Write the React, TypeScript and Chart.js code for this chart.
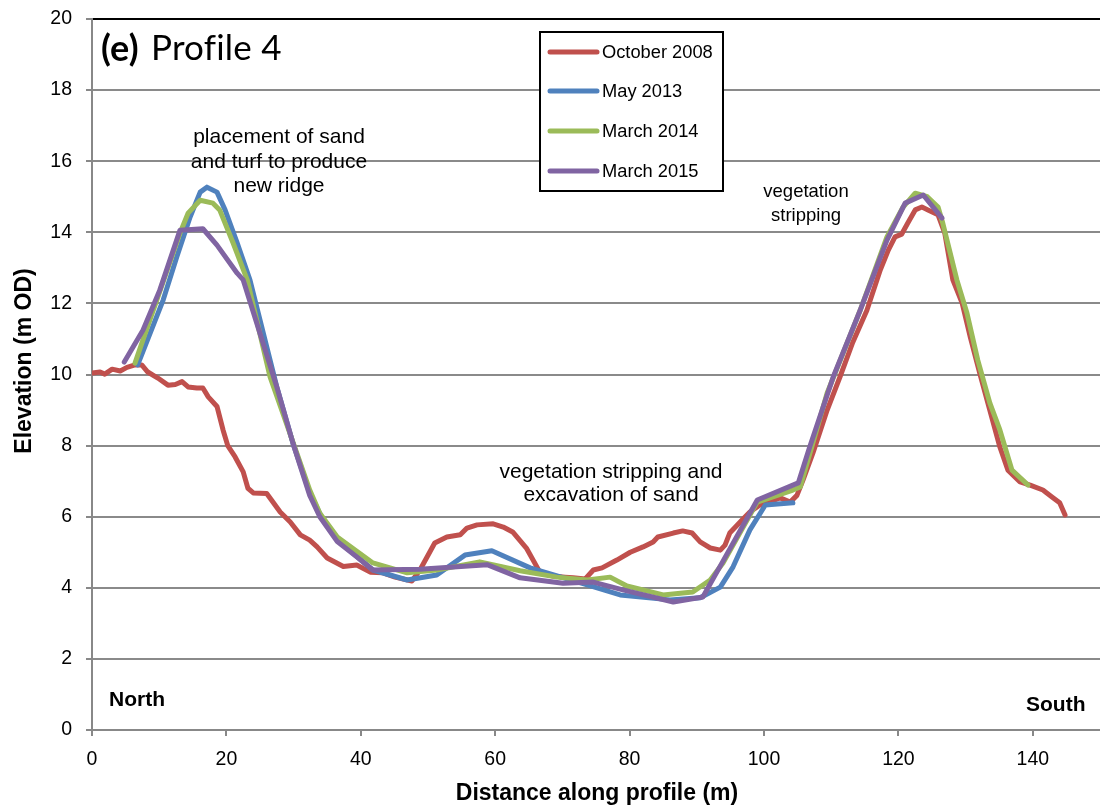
import React, { useEffect, useRef } from "react";
import { Chart, registerables } from "chart.js";

Chart.register(...registerables);

// ---- Data (distance along profile in m, elevation in m OD) ----
const oct2008Dist = [0,1.2,1.9,3.0,4.2,5.2,6.4,7.4,8.3,9.8,11.3,12.4,13.4,14.3,15.6,16.5,17.3,18.6,19.5,20.2,21.3,22.5,23.2,24.0,26.0,28.0,29.5,31.0,32.4,33.5,35.0,37.4,39.4,41.4,43.3,45.1,47.6,48.8,51.0,52.8,54.8,55.8,57.3,59.7,61.2,62.6,64.7,66.7,68.6,70.4,71.6,73.4,74.6,75.9,78.1,80.1,82.0,83.5,84.2,86.5,87.9,89.3,90.5,92.0,93.5,94.2,94.9,96.7,97.9,99.4,100.4,102.4,103.9,104.9,105.8,107.3,109.4,111.3,113.2,115.3,117.3,118.5,119.5,120.5,121.4,122.5,123.5,124.4,125.9,126.9,128.1,129.5,130.7,132.1,133.6,135.1,136.3,138.1,139.6,141.5,142.9,144.0,144.8];
const oct2008Elev = [10.04,10.07,10.01,10.15,10.1,10.2,10.27,10.27,10.07,9.9,9.7,9.72,9.8,9.65,9.62,9.62,9.37,9.1,8.44,8.0,7.68,7.26,6.8,6.67,6.65,6.13,5.85,5.49,5.34,5.15,4.84,4.6,4.64,4.44,4.42,4.3,4.19,4.5,5.26,5.43,5.49,5.68,5.77,5.8,5.71,5.57,5.1,4.42,4.33,4.3,4.28,4.25,4.5,4.56,4.78,5.0,5.15,5.29,5.43,5.54,5.6,5.54,5.29,5.12,5.06,5.2,5.54,5.9,6.13,6.33,6.39,6.53,6.41,6.6,7.03,7.8,9.0,9.93,10.9,11.8,12.94,13.5,13.87,13.95,14.26,14.63,14.71,14.63,14.49,13.98,12.66,12.0,11.05,10.04,9.0,7.96,7.31,6.98,6.89,6.75,6.55,6.39,6.05];

const may2013Dist = [6.8,10.6,12.6,14.6,16.1,17.1,18.6,19.8,21.6,23.5,27.5,29.9,32.4,34.4,36.5,41.8,46.9,51.3,55.5,59.5,65.2,73.7,78.6,86.0,90.5,93.5,95.4,97.9,100.2,104.3];
const may2013Elev = [10.27,12.1,13.3,14.43,15.13,15.27,15.13,14.63,13.7,12.66,9.65,8.07,6.67,5.9,5.34,4.5,4.22,4.36,4.92,5.04,4.56,4.08,3.8,3.66,3.72,4.02,4.59,5.63,6.33,6.39];

const mar2014Dist = [6.4,8.6,11.2,13.1,14.3,16.1,18.0,19.0,21.0,23.1,26.5,29.9,32.4,33.9,36.5,41.8,46.9,51.3,57.7,63.7,69.2,73.7,77.1,79.6,85.0,89.4,92.0,93.9,96.4,99.0,104.3,105.4,109.4,114.3,118.3,120.7,122.5,124.3,125.9,126.6,128.7,130.2,131.8,133.6,135.1,136.9,139.3];
const mar2014Elev = [10.32,11.53,12.94,13.98,14.54,14.9,14.82,14.63,13.7,12.66,9.93,8.1,6.75,6.1,5.43,4.7,4.42,4.5,4.73,4.48,4.3,4.22,4.3,4.05,3.8,3.88,4.22,4.7,5.54,6.41,6.75,6.84,9.48,11.8,13.87,14.71,15.1,15.0,14.71,14.26,12.66,11.73,10.41,9.2,8.44,7.31,6.89];

const mar2015Dist = [4.8,7.6,10.1,13.1,16.5,18.6,21.6,22.5,27.5,29.9,32.4,33.9,36.5,39.4,41.8,48.8,58.8,63.7,70.1,74.6,79.0,86.5,90.9,93.9,99.0,105.1,106.8,110.3,114.3,118.3,121.0,123.7,126.5];
const mar2015Elev = [10.35,11.25,12.38,14.06,14.1,13.64,12.85,12.66,9.65,8.07,6.6,6.0,5.3,4.87,4.5,4.52,4.65,4.28,4.13,4.16,3.94,3.6,3.74,4.75,6.47,6.95,7.96,9.93,11.8,13.78,14.82,15.05,14.4];

const seriesLabels = ["October 2008", "May 2013", "March 2014", "March 2015"];
const xTickValues = [0, 20, 40, 60, 80, 100, 120, 140];

const COLORS = ["#C0504D", "#4F81BD", "#9BBB59", "#8064A2"];
const SANS = '"Liberation Sans", Arial, sans-serif';

const toPoints = (xs: number[], ys: number[]) => xs.map((x, i) => ({ x, y: ys[i] }));

// short tick marks on the y axis (drawn from the library's own scale)
const yTickMarks = {
  id: "yTickMarks",
  afterDraw(chart: any) {
    const ctx = chart.ctx as CanvasRenderingContext2D;
    const ys = chart.scales.y;
    ctx.save();
    ctx.strokeStyle = "#888";
    ctx.lineWidth = 2;
    ys.ticks.forEach((t: any) => {
      const py = Math.round(ys.getPixelForValue(t.value));
      ctx.beginPath();
      ctx.moveTo(ys.right - 6, py);
      ctx.lineTo(ys.right, py);
      ctx.stroke();
    });
    ctx.restore();
  },
};

const overlayPlugin = {
  id: "overlay",
  afterDatasetsDraw(chart: any) {
    const ctx = chart.ctx as CanvasRenderingContext2D;
    ctx.save();
    ctx.fillStyle = "#000";

    // Panel title
    ctx.textBaseline = "middle";
    ctx.textAlign = "left";
    try { (ctx as any).letterSpacing = "0.2px"; } catch (e) {}
    ctx.font = `bold 36px Lato, "Open Sans", sans-serif`;
    ctx.fillText("(e)", 101, 49);
    ctx.font = `35px Lato, "Open Sans", sans-serif`;
    ctx.fillText("Profile 4", 151, 49);
    try { (ctx as any).letterSpacing = "0px"; } catch (e) {}

    // Annotations
    ctx.textAlign = "center";
    ctx.font = `21px ${SANS}`;
    ctx.fillText("placement of sand", 279, 137);
    ctx.fillText("and turf to produce", 279, 162);
    ctx.fillText("new ridge", 279, 186);
    ctx.fillText("vegetation stripping and", 611, 472);
    ctx.fillText("excavation of sand", 611, 495);
    ctx.font = `18.5px ${SANS}`;
    ctx.fillText("vegetation", 806, 192);
    ctx.fillText("stripping", 806, 216);

    // North / South
    ctx.textAlign = "left";
    ctx.font = `bold 21px ${SANS}`;
    ctx.fillText("North", 109, 700);
    ctx.fillText("South", 1026, 705);

    // Axis titles
    ctx.textAlign = "center";
    ctx.font = `bold 23px ${SANS}`;
    ctx.fillText("Distance along profile (m)", 597, 794);
    ctx.save();
    ctx.translate(25, 361);
    ctx.rotate(-Math.PI / 2);
    ctx.fillText("Elevation (m OD)", 0, 0);
    ctx.restore();

    // Legend
    ctx.fillStyle = "#fff";
    ctx.fillRect(540, 32, 183, 159);
    ctx.strokeStyle = "#000";
    ctx.lineWidth = 2;
    ctx.strokeRect(540, 32, 183, 159);
    const ys = [52, 91, 131, 171];
    ctx.font = `18.3px ${SANS}`;
    ctx.textAlign = "left";
    seriesLabels.forEach((lab, i) => {
      ctx.strokeStyle = COLORS[i];
      ctx.lineWidth = 5;
      ctx.lineCap = "round";
      ctx.beginPath();
      ctx.moveTo(550, ys[i]);
      ctx.lineTo(597, ys[i]);
      ctx.stroke();
      ctx.fillStyle = "#000";
      ctx.fillText(lab, 602, ys[i] + 1);
    });
    ctx.restore();
  },
};

export default function App() {
  const ref = useRef<HTMLCanvasElement | null>(null);

  useEffect(() => {
    if (!ref.current) return;
    const mk = (i: number, xs: number[], ys: number[], order: number) => ({
      label: seriesLabels[i],
      data: toPoints(xs, ys),
      borderColor: COLORS[i],
      backgroundColor: COLORS[i],
      borderWidth: 5,
      pointRadius: 0,
      tension: 0,
      fill: false,
      borderJoinStyle: "round" as const,
      borderCapStyle: "round" as const,
      order,
    });
    const chart = new Chart(ref.current, {
      type: "line",
      data: {
        datasets: [
          mk(0, oct2008Dist, oct2008Elev, 4),
          mk(1, may2013Dist, may2013Elev, 3),
          mk(2, mar2014Dist, mar2014Elev, 2),
          mk(3, mar2015Dist, mar2015Elev, 1),
        ],
      },
      options: {
        responsive: false,
        maintainAspectRatio: false,
        devicePixelRatio: 1,
        animation: false,
        layout: { padding: { top: 19, right: 0, left: 0, bottom: 0 } },
        plugins: { legend: { display: false }, tooltip: { enabled: false } },
        scales: {
          x: {
            type: "linear",
            min: 0,
            max: 150,
            afterBuildTicks: (s: any) => {
              s.ticks = xTickValues.map((v) => ({ value: v }));
            },
            afterFit: (s: any) => {
              s.height = 77;
            },
            ticks: { color: "#000", font: { family: SANS, size: 19.5 }, padding: 12, maxRotation: 0 },
            grid: { drawOnChartArea: false, drawTicks: true, tickLength: 6, tickColor: "#888", lineWidth: 2 },
            border: { color: "#888", width: 2 },
          },
          y: {
            min: 0,
            max: 20,
            afterFit: (s: any) => {
              s.width = 92;
            },
            ticks: { stepSize: 2, color: "#000", font: { family: SANS, size: 19.5 }, padding: 1 },
            grid: {
              color: (c: any) => (c.tick && c.tick.value === 20 ? "#000" : "#8a8a8a"),
              lineWidth: 2,
              tickLength: 19,
              tickColor: "rgba(0,0,0,0)",
            },
            border: { color: "#888", width: 2 },
          },
        },
      },
      plugins: [overlayPlugin, yTickMarks],
    });
    return () => chart.destroy();
  }, []);

  return (
    <div style={{ position: "absolute", left: 0, top: 0, width: 1100, height: 807, background: "#fff" }}>
      <canvas ref={ref} width={1100} height={807} />
    </div>
  );
}
